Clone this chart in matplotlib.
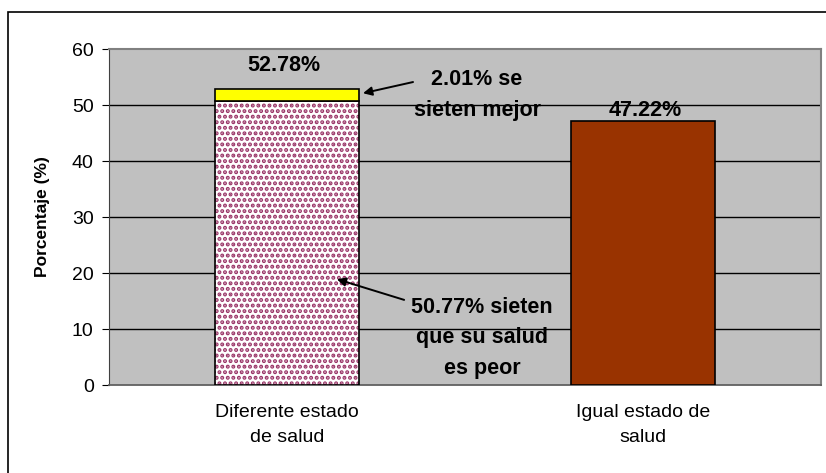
import matplotlib.pyplot as plt
from matplotlib.patches import Rectangle

plt.rcParams["font.family"] = ["Liberation Sans", "DejaVu Sans"]
plt.rcParams["hatch.linewidth"] = 2.0

# categories and values (%)
categories = ["Diferente estado\nde salud", "Igual estado de\nsalud"]
peor = [50.77, 0]
mejor = [2.01, 0]
igual = [0, 47.22]
totals = [52.78, 47.22]

fig = plt.figure(figsize=(8.26, 4.73), dpi=100)
ax = fig.add_axes([109 / 826, 88 / 473, 712 / 826, 336 / 473])

# outer frame of the chart
fig.patches.append(Rectangle((8 / 826, -0.2), 1.2, 1.2 - 12 / 473,
                             transform=fig.transFigure, fill=False,
                             edgecolor="black", linewidth=1.2))

ax.set_facecolor("#C0C0C0")
x = [0, 1]
w = 0.405

ax.bar(x[0], peor[0], width=w, color="white", edgecolor="#993366",
       hatch="...", linewidth=0, zorder=3)
ax.bar(x[0], peor[0], width=w, fill=False, edgecolor="black",
       linewidth=1.2, zorder=4)
ax.bar(x[0], mejor[0], bottom=peor[0], width=w, color="#FFFF00",
       edgecolor="black", linewidth=1.2, zorder=4)
ax.bar(x[1], igual[1], width=w, color="#993300", edgecolor="black",
       linewidth=1.2, zorder=3)

bold = dict(fontsize=15.5, fontweight="bold", ha="center", va="center",
            linespacing=1.62, zorder=5)

# totals above bars
ax.text(x[0] - 0.008, 57.1, f"{totals[0]:.2f}%", **bold)
ax.text(x[1] + 0.006, 49.1, f"{totals[1]:.2f}%", **bold)

# annotations with arrows
ax.text(0.534, 51.8, f"{mejor[0]:.2f}% se\nsieten mejor", **bold)
ax.text(0.548, 8.4, f"{peor[0]:.2f}% sieten\nque su salud\nes peor", **bold)
arrow = dict(arrowstyle="-|>", color="black", lw=1.4, mutation_scale=13,
             shrinkA=0, shrinkB=0)
ax.annotate("", xy=(0.2135, 52.1), xytext=(0.354, 54.1),
            arrowprops=arrow, zorder=5)
ax.annotate("", xy=(0.140, 18.9), xytext=(0.329, 15.2),
            arrowprops=arrow, zorder=5)

ax.set_xlim(-0.5, 1.5)
ax.set_ylim(0, 60)
ax.set_yticks(range(0, 61, 10))
ax.set_xticks(x)
ax.set_xticklabels(categories, fontsize=14, linespacing=1.6)
ax.tick_params(axis="x", length=0, pad=14)
ax.tick_params(axis="y", length=5, labelsize=14, direction="out", pad=6)

for y in range(10, 60, 10):
    ax.axhline(y, color="black", linewidth=1, zorder=1)

for s in ["top", "right"]:
    ax.spines[s].set_color("#808080")
    ax.spines[s].set_linewidth(1.5)
ax.spines["left"].set_color("#404040")
ax.spines["bottom"].set_color("#606060")
ax.spines["bottom"].set_linewidth(1.3)

ax.set_ylabel("Porcentaje (%)", fontsize=12.5, fontweight="bold")
ax.yaxis.set_label_coords(-59 / 712, 0.5)

fig.savefig("out.png", dpi=100)
